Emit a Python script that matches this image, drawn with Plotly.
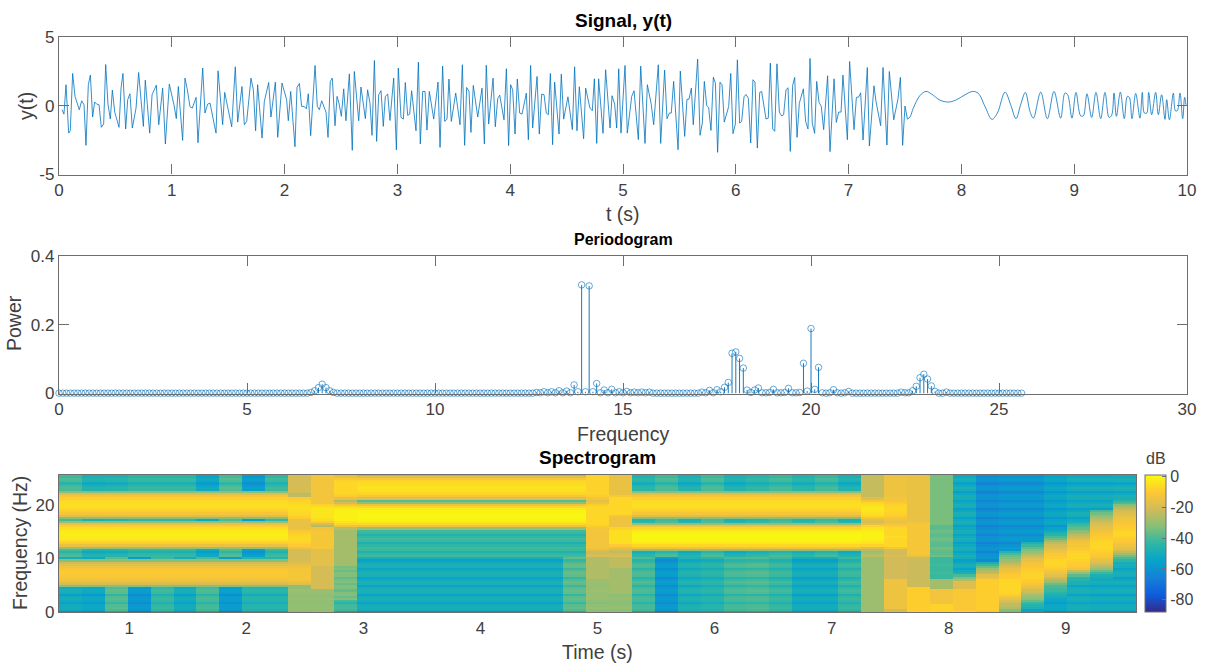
import numpy as np
import plotly.graph_objects as go

# ---------- Signal (vertices) ----------
signal_t = [.027,.044,.062,.086,.100,.121,.142,.180,.201,.222,.239,.260,.278,.298,.316,.334,.355,.375,.396,.414,.434,.455,.473,.494,.532,.550,.567,.591,.609,.629,.650,.683,.706,.748,.765,.804,.825,.863,.884,.919,.943,.978,1.019,1.040,1.058,1.096,1.117,1.138,1.161,1.182,1.215,1.232,1.274,1.294,1.318,1.339,1.374,1.392,1.410,1.451,1.469,1.531,1.563,1.584,1.622,1.643,1.664,1.702,1.723,1.743,1.761,1.800,1.820,1.859,1.879,1.918,1.939,1.977,2.018,2.033,2.054,2.092,2.110,2.131,2.151,2.172,2.193,2.210,2.231,2.270,2.290,2.308,2.329,2.367,2.385,2.405,2.423,2.447,2.465,2.482,2.503,2.524,2.544,2.574,
2.600,2.618,2.657,2.677,2.716,2.736,2.757,2.775,2.796,2.816,2.834,2.855,2.875,2.893,2.914,2.934,2.967,2.991,3.008,3.032,3.053,3.070,3.091,3.109,3.126,3.165,3.186,3.203,3.224,3.245,3.262,3.283,3.322,3.360,3.378,3.401,3.419,3.440,3.457,3.478,3.517,3.555,3.576,3.596,3.614,3.635,3.652,3.673,3.712,3.750,3.771,3.788,3.809,3.848,3.868,3.889,3.907,3.945,3.966,3.986,4.004,4.022,4.043,4.063,4.084,4.105,4.143,4.161,4.181,4.199,4.238,4.258,4.279,4.300,4.320,4.338,4.356,4.376,4.394,4.433,4.453,4.474,4.512,4.551,4.571,4.592,4.613,4.651,4.669,4.707,4.728,4.746,4.767,4.784,4.823,4.846,4.885,4.903,4.926,4.944,4.962,4.982,5.018,5.038,5.077,5.098,5.136,
5.157,5.195,5.216,5.251,5.272,5.313,5.334,5.369,5.390,5.411,5.428,5.449,5.488,5.508,5.547,5.567,5.585,5.606,5.623,5.662,5.683,5.703,5.721,5.742,5.759,5.780,5.801,5.819,5.839,5.860,5.878,5.898,5.937,5.955,5.975,5.996,6.014,6.034,6.052,6.073,6.090,6.111,6.132,6.152,6.170,6.191,6.212,6.229,6.268,6.288,6.306,6.327,6.345,6.365,6.386,6.407,6.424,6.445,6.463,6.483,6.504,6.522,6.543,6.563,6.599,6.619,6.640,6.658,6.678,6.699,6.717,6.738,6.758,6.779,6.814,6.835,6.871,6.891,6.912,6.933,6.950,6.989,7.009,7.048,7.069,7.089,7.107,7.128,7.166,7.184,7.225,7.243,7.284,7.305,7.340,7.361,7.400,7.438,7.459,7.479,7.500,7.521,7.544,
7.574,7.633,7.686,7.736,7.810,7.887,7.958,8.032,8.100,8.150,8.209,8.271,8.319,8.387,8.437,8.484,8.525,8.567,8.608,8.638,8.703,8.762,8.821,8.880,8.918,8.942,8.980,9.016,9.057,9.081,9.113,9.155,9.193,9.235,9.273,9.309,9.332,9.353,9.374,9.409,9.444,9.471,9.489,9.512,9.545,9.583,9.604,9.622,9.643,9.660,9.687,9.722,9.746,9.775,9.805,9.820,9.844,9.879,9.897,9.914,9.938,9.962,9.979,9.991]
signal_y = [-.29,-.61,1.53,-1.99,-1.82,2.35,.68,-.29,.36,.07,-2.88,1.53,2.23,-.82,.27,.12,.07,-1.57,-1.33,3.0,.12,-.97,1.14,-.46,-1.57,1.28,2.35,-1.69,.44,.87,-1.62,-.17,2.42,-1.5,1.86,-1.99,.8,1.5,-1.38,1.28,-2.78,1.57,.07,-.94,1.4,-2.52,2.01,1.16,-.07,-.17,.61,-2.69,2.74,-.53,.12,.19,-1.26,-1.99,2.54,-1.38,.97,-1.53,2.83,-1.19,1.4,-1.38,-1.14,2.01,1.16,-1.82,1.53,-2.35,.31,1.69,-.82,1.72,-2.3,1.65,.44,-1.09,1.04,-2.98,1.33,1.62,-.05,-.05,-.22,.87,-2.18,2.93,-.05,-.29,.36,-.46,-2.3,1.77,2.01,-1.45,.68,.19,-.77,1.23,-1.09,2.32,
-3.24,2.49,-1.09,1.36,-.94,1.16,.19,-2.15,3.29,-2.59,.8,1.09,-1.5,.68,.85,-1.07,2.01,-3.2,2.74,-.85,-.97,1.69,-.7,-.61,1.09,-1.82,3.17,-2.78,1.04,1.04,-1.77,1.04,-.97,1.72,-3.03,2.88,-1.14,-.97,1.94,-1.14,.92,-1.38,2.98,-2.88,1.33,1.04,-1.94,1.48,-.82,1.28,-2.78,2.95,-1.33,2.01,-1.53,.51,.77,-1.02,2.69,-2.9,1.53,1.16,-2.06,1.94,-.53,-.61,.92,-2.47,2.93,-1.62,2.13,-2.06,.85,.8,-.53,-.65,2.35,-2.83,1.72,-2.06,2.3,-.97,.65,-1.74,2.83,-1.82,1.38,-2.4,1.28,-.17,-.36,1.96,-2.74,1.96,-2.01,2.62,-1.62,.73,.12,-1.62,2.69,-1.99,2.93,-1.99,.68,1.09,-2.47,
2.88,-2.74,1.53,.07,-1.38,2.98,-2.74,2.59,-.94,-.53,-.53,1.77,-3.2,2.52,-2.23,.46,.48,1.28,-1.38,3.39,-2.15,-1.26,1.77,.02,-.12,-1.79,2.08,1.65,-3.39,1.72,1.53,-1.19,-.05,2.35,-2.03,-1.33,3.34,-1.26,-1.14,.65,.82,.56,-2.71,1.89,1.72,-3.08,.97,1.04,-.97,-.9,3.1,-1.69,-1.86,3.05,-.46,-.75,-.65,1.16,1.31,-3.32,1.48,2.06,-2.3,.17,1.23,-1.14,-1.69,3.44,-1.26,-2.01,1.77,.24,-.05,-1.74,2.18,-3.34,1.96,-1.21,-.46,-.46,2.23,-2.47,3.22,-1.74,.61,.63,.94,-2.49,2.78,-2.93,1.45,.31,-1.45,2.78,-2.86,2.49,-1.02,.51,2.06,-2.88,-.02,-.97,-.82,
-.17,.75,1.04,.85,.41,.27,.44,.8,1.04,.9,-.05,-.99,-.53,.99,.07,-.94,.07,.97,-.41,-.9,.99,-.94,1.04,-.9,.92,.8,-.9,.97,-.73,-.73,.87,-.85,.97,-.94,.97,-.85,-.7,.92,-.77,.99,-.94,.68,.61,-.94,.9,-.9,.97,-.53,-.53,.97,-.65,.97,-.65,.8,-.99,.44,-1.02,.92,-.36,-.36,.92,-.94,.61,.07]
n_jagged = sum(1 for t in signal_t if t <= 7.521)

# ---------- Periodogram (0 to 25.6 Hz in 0.1 Hz bins) ----------
periodogram_power = ([.001]*67 + [.003,.008,.017,.027,.017,.008,.003] + [.001]*53 +
    [.003,.002,.005,.002,.005,.002,.008,.002,.007,.002,.025,.005,.316,.005,.313,.005,.029,.002,.01,.002,.012,.002,.005,.002,.006,.002,.004,.002,.004,.002,.004] +
    [.001]*13 +
    [.004,.002,.009,.002,.011,.005,.018,.032,.117,.121,.102,.074,.01,.003,.01,.016,.002,.002,.003,.012,.002,.002,.003,.015,.002,.002,.003,.088,.007,.189,.012,.076,.002,.001,.002,.011,.002,.001,.002,.006] +
    [.001]*13 +
    [.004,.002,.002,.008,.021,.046,.056,.042,.022,.006,.001,.001,.004] + [.001]*20)
periodogram_freq = [round(i*0.1, 1) for i in range(len(periodogram_power))]

# ---------- Spectrogram estimates (dB), 65 rows from 0 to 25.6 Hz ----------
NF = -99
spec_freq = [round(i*0.4, 1) for i in range(65)]
three_bands = [NF]*12 + [-32,-21,-17,-14,-12,-11,-10,-11,-12,-14,-17,-21,-32] + [NF]*5 + [-30,-15,-9,-5,-3,-2.5,-2,-2.5,-3,-5,-9,-15,-30] + [NF] + [-32,-18,-12,-8.5,-6.5,-5.5,-5,-5.5,-6.5,-8.5,-12,-18,-32] + [NF]*8
upper_bands = [NF]*39 + [-30,-14,-7,-3,-1,-0.5,0,-0.5,-1,-3,-7,-14,-31,-38,-18,-12,-8,-6,-5,-4,-5,-6,-8,-12,-18,-30]
mid_bands = [NF]*29 + [-30,-14,-7,-3,-1,-0.5,0,-0.5,-1,-3,-7,-14,-30] + [NF]*2 + [-32,-18,-12,-8.5,-6.5,-5.5,-5,-5.5,-6.5,-8.5,-12,-18,-32] + [NF]*8
c10 = [-33] + [-31]*12 + [-18,-15,-13,-12,-12,-12,-12,-13,-14,-15,-18] + [-20]*6 + [-14,-10,-8,-7,-6,-7,-8,-9,-11] + [-15]*5 + [-10,-8,-7,-6,-5,-5,-6,-7,-8,-10] + [-24,-25] + [-20]*9
c11 = [-31]*11 + [-20]*11 + [-17]*8 + [-12]*9 + [-14,-26,-24,-10,-6,-4] + [-3.5]*4 + [-5,-8] + [-13]*14
c12 = [NF]*2 + [-45]*4 + [-33,-36,-33,-33,-37,-33,-33,-36,-33,-34,-37,-33,-33,-36,-33,-34] + [-28]*17 + [-25,-14,-7,-4,-2] + [-1.5]*4 + [-3,-6,-12,-20,-26] + [-16,-10,-8,-7,-7,-7,-7,-7,-8,-11,-15,-20]
c23 = [-33]*6 + [-30]*10 + [-26]*12 + [-22,-17] + [-13]*9 + [-12,-9] + [-7]*9 + [-9,-14,-17,-13,-9] + [-8]*10
c24 = [-32]*9 + [-28]*12 + [-24]*9 + [-16,-10] + [-5]*7 + [-8] + [-14]*5 + [-12] + [-7]*8 + [-11] + [-15]*10
c35 = [-29]*30 + [-18,-8,-4,-2.5,-1.5,-1,-1,-1.5,-2.5,-4,-8,-16,-20,-18,-12,-7,-5,-3.5,-3,-3.5,-5,-7,-12,-18] + [-23]*11
c36 = [-20]*2 + [-14]*14 + [-21]*14 + [-12] + [-7]*4 + [-5] + [-7]*4 + [-10,-13,-15,-14,-12,-10,-8] + [-7]*3 + [-8,-10,-12,-13] + [-14]*11
c37 = [-8] + [-9]*11 + [-22]*14 + [-15] + [-12]*15 + [-14] + [-15]*22
c38 = [-8]*4 + [-13]*7 + [-28]*5 + [-42]*10 + [-38]*15 + [-34]*24
c39 = [-8] + [-11]*10 + [-18]*4 + [-26,-33,-40] + [NF]*47
c40 = [-12] + [-9]*15 + [-15,-17,-24,-27,-30,-36,-42,-48] + [NF]*41
c41 = [-35,-33,-27,-24,-22,-19,-15,-12,-9] + [-7]*7 + [-9,-10,-12,-14,-15,-18,-22,-26,-30,-33,-35,-40,-46] + [NF]*36
c42 = [-55,-55,-48,-46,-42,-36,-32,-30,-27,-23,-20,-17,-14,-12,-10,-9,-8,-8,-8,-9,-10,-11,-12,-13,-15,-18,-22,-26,-30,-33,-37,-42,-47] + [NF]*32
c43 = [NF]*7 + [-50,-48,-45,-42,-41,-40,-36,-30,-27,-22,-17,-14,-12,-10,-8,-7,-7,-7,-9,-10,-11,-13,-15,-18,-20,-24,-30,-36,-40,-45,-47] + [NF]*27
c44 = [NF]*15 + [-46,-45,-38,-30,-22,-13,-11,-10,-9,-8,-7,-7,-7,-8,-10,-11,-12,-13,-14,-18,-22,-25,-30,-33,-37,-40,-43] + [NF]*23
c45 = [NF]*16 + [-50,-48,-42,-36,-30,-26,-22,-19,-16,-13,-11,-10,-9,-8,-7,-7,-7,-8,-9,-10,-11,-12,-14,-15,-17,-19,-21,-24,-27,-31,-35,-40] + [NF]*17
c46 = [NF]*23 + [-50,-44,-40,-35,-29,-24,-19,-15,-14,-12,-10,-9,-8,-7,-7,-8,-9,-10,-11,-12,-13,-14,-16,-18,-20,-24,-28,-33,-40,-45,-50] + [NF]*11
column_bands = [three_bands]*10 + [c10, c11, c12] + [upper_bands]*10 + [c23, c24] + [mid_bands]*10 + [c35,c36,c37,c38,c39,c40,c41,c42,c43,c44,c45,c46]
floor_low = [-50,-52,-38,-57,-42,-50,-40,-56,-45,-45,-30,-30,-40,-49,-49,-49,-49,-49,-49,-49,-49,-49,-37,-30,-30,-40,-57,-47,-45,-40,-39,-42,-50,-50,-42,-32,-30,-30,-42,-50,-58,-57,-57,-52,-49,-50,-50]
floor_top = [-40,-47,-46,-43,-43,-43,-52,-39,-56,-42,-25,-20,-30,-42,-42,-42,-42,-42,-42,-42,-42,-42,-42,-20,-20,-45,-40,-47,-40,-47,-44,-41,-45,-41,-47,-25,-20,-20,-36,-50,-60,-58,-58,-53,-50,-50,-49]
floor_stripes = [-14,-2,0,-1, -5,-1,0,-1, -6,0,1,-1, -5,0,1,-2, -6,0,1,-1, -5,0,1,-2, -6,0,1,-1, -5,0,1,-2, -6,0,1,-1, -5,0,1,-2, -6,0,1,-1, -5,0,1,-2, -6,0,1,-1, -5,0,1,-2, -6,0,1,-1, -5,0,1,-2, -1]
spec_db = np.array([[max(column_bands[c][r], (floor_low[c] if r < 26 else floor_top[c]) + floor_stripes[r]) for c in range(47)] for r in range(65)])

time_start, time_step = 0.4, 9.2/47
spec_time = [time_start + (i + 0.5)*time_step for i in range(47)]

# ---------- Ticks and text ----------
parula = [[0,"#352a87"],[.125,"#0f5cdd"],[.25,"#1481d6"],[.375,"#06a4ca"],[.5,"#2eb7a4"],[.625,"#87bf77"],[.75,"#d1bb59"],[.875,"#fec832"],[1,"#f9fb0e"]]
W, H = 1207, 667
FONT = "Liberation Sans, Arial, sans-serif"
TXT = "#404040"
AX = "#6e6e6e"
BLUE = "#0072bd"

fig = go.Figure()
fig.add_trace(go.Scatter(x=signal_t[:n_jagged], y=signal_y[:n_jagged], mode="lines", line=dict(color=BLUE, width=0.8), xaxis="x", yaxis="y", showlegend=False))
fig.add_trace(go.Scatter(x=signal_t[n_jagged-1:], y=signal_y[n_jagged-1:], mode="lines", line=dict(color=BLUE, width=0.8, shape="spline", smoothing=1.0), xaxis="x", yaxis="y", showlegend=False))
fig.add_trace(go.Scatter(x=periodogram_freq, y=periodogram_power, mode="markers", xaxis="x2", yaxis="y2", showlegend=False, cliponaxis=False,
    marker=dict(symbol="circle-open", size=6.5, color="rgba(0,114,189,0.6)", line=dict(width=1)),
    error_y=dict(type="data", symmetric=False, array=[0]*len(periodogram_power), arrayminus=periodogram_power, width=0, thickness=1, color="#1f78b8")))
fig.add_trace(go.Heatmap(x=spec_time, y=spec_freq, z=spec_db, zmin=-88, zmax=1, colorscale=parula, xaxis="x3", yaxis="y3", zsmooth=False,
    colorbar=dict(x=1145/W, xanchor="left", xref="paper", y=1-612/H, yanchor="bottom", yref="paper", len=137/H, lenmode="fraction", thickness=21, thicknessmode="pixels", xpad=0, ypad=0,
                  tickvals=[0,-20,-40,-60,-80], ticktext=["0","-20","-40","-60","-80"], ticks="inside", ticklen=4, tickcolor=AX, outlinecolor=AX, outlinewidth=1,
                  tickfont=dict(family=FONT, size=16, color=TXT))))

def ax(dom, rng, tv, mirror="ticks", ticklen=10, **kw):
    return dict(domain=dom, range=rng, tickvals=tv, ticktext=[str(v) for v in tv], ticks="inside", ticklen=ticklen, tickwidth=1, tickcolor=AX,
                showline=True, linecolor=AX, linewidth=1.4, mirror=mirror, showgrid=False, zeroline=False,
                tickfont=dict(family=FONT, size=17, color=TXT), **kw)

def xd(a, b): return [a/W, b/W]
def yd(top, bot): return [1-bot/H, 1-top/H]

fig.update_layout(
    width=W, height=H, margin=dict(l=0, r=0, t=0, b=0, autoexpand=False), paper_bgcolor="white", plot_bgcolor="white", autosize=False, showlegend=False,
    xaxis=ax(xd(59,1187), [0,10], list(range(11)), anchor="y"),
    yaxis=ax(yd(37,174.5), [-5,5], [-5,0,5], anchor="x"),
    xaxis2=ax(xd(59,1187), [0,30], [0,5,10,15,20,25,30], anchor="y2"),
    yaxis2=ax(yd(256,393.5), [0,0.4], [0,0.2,0.4], anchor="x2"),
    xaxis3=ax(xd(59,1136), [0.4,9.6], list(range(1,10)), mirror=True, ticklen=0, anchor="y3"),
    yaxis3=ax(yd(475,612), [0,25.6], [0,10,20], mirror=True, ticklen=0, anchor="x3"),
)
labels = [
    ("Signal, y(t)", 623, 20, 19, True, 0), ("t (s)", 623, 214, 19.5, False, 0), ("y(t)", 26, 106, 19.5, False, -90),
    ("Periodogram", 623, 239, 16, True, 0), ("Frequency", 623, 434, 19.5, False, 0), ("Power", 14, 323, 19.5, False, -90),
    ("Spectrogram", 597, 457, 19, True, 0), ("Time (s)", 597, 652, 19.5, False, 0), ("Frequency (Hz)", 20, 543, 19.5, False, -90),
    ("dB", 1156, 459, 16, False, 0),
]
fig.update_layout(annotations=[dict(text=f"<b>{t}</b>" if b else t, x=x/W, y=1-y/H, xref="paper", yref="paper", xanchor="center", yanchor="middle", showarrow=False, textangle=a,
                                    font=dict(family=FONT, size=s, color="#000000" if b else TXT)) for t, x, y, s, b, a in labels])
fig.write_html("out.html", config={"displayModeBar": False}, post_script="document.body.style.margin='0';document.body.style.overflow='hidden';")
